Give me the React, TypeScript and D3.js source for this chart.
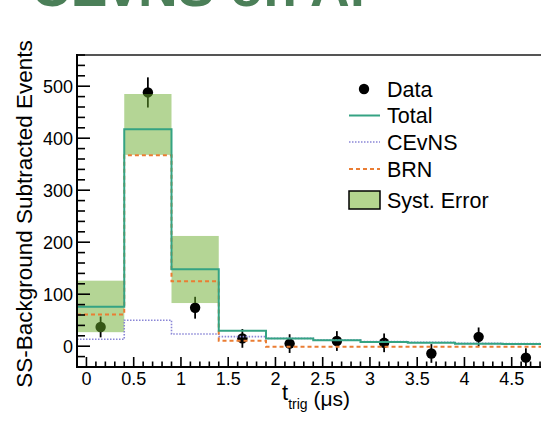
import React from "react";
import * as d3 from "d3";

// Histogram bin edges (trigger time, µs) and bin centres
const binEdges = [-0.1, 0.4, 0.9, 1.4, 1.9, 2.4, 2.9, 3.4, 3.9, 4.4, 4.9];
const binCenters = [0.15, 0.65, 1.15, 1.65, 2.15, 2.65, 3.15, 3.65, 4.15, 4.65];

// Measured, background-subtracted counts with statistical errors
const dataCounts = [37, 488, 74, 15, 5, 10, 6.5, -14, 18, -22];
const dataErrors = [20, 29, 21, 18, 18, 19, 18, 18, 18, 18];

// Predicted components
const totalCounts = [76, 417, 148, 29.5, 15, 11.5, 8.3, 6.5, 4.5, 4];
const cevnsCounts = [13.5, 50, 23.5, 18.5, 15, 12, 9, 7.5, 5.5, 5];
const brnCounts = [61, 367, 125, 10.5, -1, -1, -1, -1, -1, -1];

// Systematic uncertainty band on the total prediction
const systLow = [27, 368, 83, 29.5, 15, 11.5, 8.3, 6.5, 4.5, 4];
const systHigh = [126, 485, 212, 29.5, 15, 11.5, 8.3, 6.5, 4.5, 4];

const xTickValues = [0, 0.5, 1, 1.5, 2, 2.5, 3, 3.5, 4, 4.5];
const yTickValues = [0, 100, 200, 300, 400, 500];

const legendItems = ["Data", "Total", "CEvNS", "BRN", "Syst. Error"];

const W = 541;
const H = 421;
const FONT = "'Liberation Sans', Arial, Helvetica, sans-serif";

const COL_TOTAL = "#35a383";
const COL_CEVNS = "#8a86d6";
const COL_BRN = "#ea7d33";
const COL_BAND = "#6aab2c";

export default function App() {
  const x = d3.scaleLinear().domain([-0.1, 4.9]).range([77, 549.5]);
  const y = d3.scaleLinear().domain([-40, 560]).range([367, 55]);

  const stepPath = (vals: number[]) => {
    const pts: [number, number][] = vals.map((v, i) => [binEdges[i], v]);
    pts.push([binEdges[binEdges.length - 1], vals[vals.length - 1]]);
    return d3
      .line<[number, number]>()
      .x((d) => x(d[0]))
      .y((d) => y(d[1]))
      .curve(d3.curveStepAfter)(pts) as string;
  };

  const minorX = d3.range(0, 50).map((i) => -0.1 + i * 0.1).filter((v) => v > -0.05);
  const minorY = d3.range(-40, 561, 20);

  const legendX = 349;
  const legendRows = [89, 115.5, 142, 169, 200];

  return (
    <div style={{ position: "absolute", left: 0, top: 0 }}>
      <svg width={W} height={H} style={{ display: "block", fontFamily: FONT }}>
        <rect x={0} y={0} width={W} height={H} fill="#fff" />

        {/* heading, partly above the visible area */}
        <text x={31} y={6} fontSize={55} fontWeight="bold" fill="#4b7f58">
          CEvNS on Ar
        </text>

        {/* data points (drawn under the band) */}
        <g>
          {dataCounts.map((v, i) => (
            <g key={i}>
              <line
                x1={x(binCenters[i])}
                x2={x(binCenters[i])}
                y1={y(v - dataErrors[i])}
                y2={y(v + dataErrors[i])}
                stroke="#000"
                strokeWidth={1.8}
              />
              <circle cx={x(binCenters[i])} cy={y(v)} r={5.2} fill="#000" />
            </g>
          ))}
        </g>

        {/* systematic band */}
        <g>
          {systLow.map((lo, i) =>
            systHigh[i] > lo ? (
              <rect
                key={i}
                x={x(binEdges[i])}
                width={x(binEdges[i + 1]) - x(binEdges[i])}
                y={y(systHigh[i])}
                height={y(lo) - y(systHigh[i])}
                fill={COL_BAND}
                fillOpacity={0.5}
              />
            ) : null
          )}
        </g>

        {/* prediction histograms */}
        <path d={stepPath(cevnsCounts)} fill="none" stroke={COL_CEVNS} strokeWidth={1.6} strokeDasharray="1.5,1.5" />
        <path d={stepPath(brnCounts)} fill="none" stroke={COL_BRN} strokeWidth={2} strokeDasharray="4,3" />
        <path d={stepPath(totalCounts)} fill="none" stroke={COL_TOTAL} strokeWidth={2} />

        {/* frame */}
        <line x1={77} x2={W} y1={55} y2={55} stroke="#555" strokeWidth={2} />
        <line x1={77} x2={77} y1={54} y2={368} stroke="#000" strokeWidth={2} />
        <line x1={76} x2={W} y1={367} y2={367} stroke="#000" strokeWidth={2} />

        {/* y ticks */}
        {minorY.map((v) => (
          <line key={"ym" + v} x1={77} x2={yTickValues.includes(v) ? 90 : 85} y1={y(v)} y2={y(v)} stroke="#000" strokeWidth={1.6} />
        ))}
        {yTickValues.map((v) => (
          <text key={"yl" + v} x={73} y={y(v)} dy="0.35em" textAnchor="end" fontSize={18} fill="#000">
            {v}
          </text>
        ))}

        {/* x ticks */}
        {minorX.map((v) => {
          const major = xTickValues.some((t) => Math.abs(t - v) < 1e-6);
          return (
            <line key={"xm" + v.toFixed(2)} x1={x(v)} x2={x(v)} y1={367} y2={major ? 357 : 361.5} stroke="#000" strokeWidth={1.6} />
          );
        })}
        {xTickValues.map((v) => (
          <text key={"xl" + v} x={x(v)} y={385} textAnchor="middle" fontSize={18} fill="#000">
            {v}
          </text>
        ))}

        {/* axis titles */}
        <text transform={`translate(32,214) rotate(-90)`} textAnchor="middle" fontSize={22.5} fill="#000">
          SS-Background Subtracted Events
        </text>
        <text x={282} y={400} fontSize={22} fill="#000">
          t
          <tspan fontSize={14} dy={9}>trig</tspan>
          <tspan fontSize={21} dy={-3}> (μs)</tspan>
        </text>

        {/* legend */}
        <g>
          <circle cx={legendX + 15} cy={legendRows[0]} r={5.2} fill="#000" />
          <line x1={legendX} x2={legendX + 31} y1={legendRows[1]} y2={legendRows[1]} stroke={COL_TOTAL} strokeWidth={2} />
          <line x1={legendX} x2={legendX + 31} y1={legendRows[2]} y2={legendRows[2]} stroke={COL_CEVNS} strokeWidth={1.6} strokeDasharray="1.5,1.5" />
          <line x1={legendX} x2={legendX + 31} y1={legendRows[3]} y2={legendRows[3]} stroke={COL_BRN} strokeWidth={2} strokeDasharray="4,3" />
          <rect x={legendX} y={legendRows[4] - 9} width={31} height={18} fill="#b4d58f" stroke="#000" strokeWidth={1.5} />
          {legendItems.map((t, i) => (
            <text key={t} x={387} y={legendRows[i]} dy="0.36em" fontSize={21.5} fill="#000">
              {t}
            </text>
          ))}
        </g>
      </svg>
    </div>
  );
}
